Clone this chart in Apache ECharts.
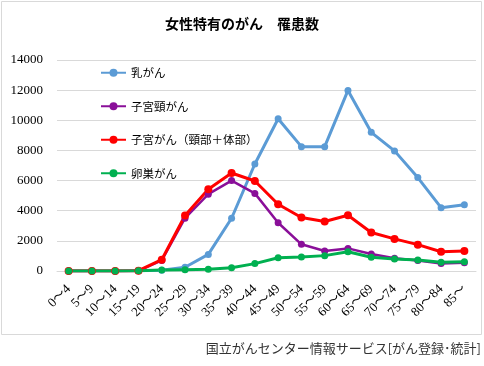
<!DOCTYPE html>
<html><head><meta charset="utf-8">
<script src="https://cdn.jsdelivr.net/npm/echarts@6/dist/echarts.min.js"></script>
<style>html,body{margin:0;padding:0;background:#fff;}#c{width:484px;height:366px;}</style>
</head><body><div id="c"></div>
<script>
const categories = ['0～4','5～9','10～14','15～19','20～24','25～29','30～34','35～39','40～44','45～49','50～54','55～59','60～64','65～69','70～74','75～79','80～84','85～'];
const breast   = [0,0,0,10,50,250,1100,3500,7100,10100,8250,8250,11980,9200,7970,6200,4200,4400];
const cervix   = [0,0,0,10,700,3500,5100,6000,5150,3200,1770,1330,1500,1130,850,690,490,550];
const uterus   = [0,0,0,20,750,3680,5430,6500,5970,4430,3550,3280,3700,2550,2130,1750,1280,1330];
const ovary    = [0,0,0,20,60,90,120,220,490,880,930,1020,1280,910,800,730,580,620];
const yTicks = [0,2000,4000,6000,8000,10000,12000,14000];
const seriesNames = ['乳がん','子宮頸がん','子宮がん（頸部＋体部）','卵巣がん'];

const chart = echarts.init(document.getElementById('c'));
function line(name, data, color, width, size){
  return {name, type:'line', data, symbol:'circle', symbolSize:size,
    lineStyle:{color, width}, itemStyle:{color}, animation:false};
}
chart.setOption({
  animation:false,
  title:{text:'女性特有のがん　罹患数', left:'center', top:12,
    textStyle:{fontSize:14, fontWeight:'bold', color:'#000', fontFamily:'Noto Sans CJK JP'}},
  legend:{orient:'vertical', left:95, top:62, itemWidth:25, itemHeight:10, itemGap:22,
    textStyle:{fontSize:11.5, color:'#000', fontFamily:'Noto Sans CJK JP'},
    data:seriesNames},
  grid:{left:57, right:8, top:60, bottom:95},
  xAxis:{type:'category', data:categories, boundaryGap:true,
    axisLine:{lineStyle:{color:'#d9d9d9'}}, axisTick:{show:false},
    axisLabel:{rotate:45, fontSize:13, color:'#000', margin:16, interval:0, fontFamily:'Liberation Serif, Noto Sans CJK JP'}},
  yAxis:{type:'value', min:0, max:14000, interval:2000,
    axisLine:{show:false}, axisTick:{show:false},
    splitLine:{lineStyle:{color:'#d9d9d9'}},
    axisLabel:{fontSize:13, color:'#000', margin:14, fontFamily:'Liberation Serif',
      formatter:v=> yTicks.includes(v)? String(v):''}},
  graphic:[
    {type:'rect', shape:{x:1.5, y:1.5, width:480, height:333}, style:{fill:'none', stroke:'#d9d9d9', lineWidth:1}, z:-1},
    {type:'text', right:3, top:342, style:{text:'国立がんセンター情報サービス[がん登録･統計]', fontSize:13, fill:'#333', fontFamily:'Noto Sans CJK JP'}}
  ],
  series:[
    line(seriesNames[0], breast, '#5B9BD5', 3, 7),
    line(seriesNames[1], cervix, '#8A0F99', 2.5, 7),
    line(seriesNames[2], uterus, '#FF0000', 3, 8),
    line(seriesNames[3], ovary, '#00B050', 3, 7)
  ]
});
</script></body></html>
